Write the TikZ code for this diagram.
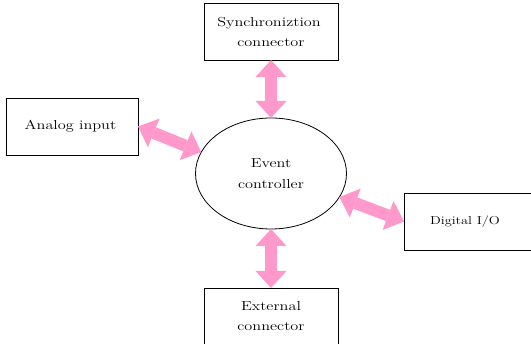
\documentclass[tikz,border=0pt]{standalone}
\usepackage{graphicx}
\usetikzlibrary{arrows.meta,shapes.geometric}
\definecolor{arrpink}{HTML}{FF99CC}
\newcommand\sxt[1]{\scalebox{1.25}[1]{#1}}
\begin{document}
\begin{tikzpicture}[x=1pt,y=1pt,
  box/.style={draw, line width=0.8pt, rectangle, minimum width=134pt, minimum height=57pt,
    inner sep=0pt, outer sep=0pt, align=center, font=\fontsize{13}{20}\selectfont},
  ell/.style={draw, line width=0.8pt, ellipse, minimum width=151pt, minimum height=111pt,
    inner sep=0pt, outer sep=0pt, align=center, font=\fontsize{13}{21}\selectfont},
  ptip/.tip={Triangle[length=17pt 0, width=31pt 0, line width=0pt]},
  link/.style={draw=arrpink, line width=12pt, ptip-ptip}
]
\useasboundingbox (0,0) rectangle (531,344);
\clip (0,0) rectangle (531,344);
\node[box] (sync) at (271,312.5) {\sxt{Synchroniztion}\hspace*{4pt}\\\sxt{connector}};
\node[box, minimum width=132pt] (analog) at (72,217.5) {\sxt{Analog input}\hspace*{3pt}};
\node[box, font=\fontsize{11.5}{14}\selectfont] (dig) at (471,122.5) {\sxt{Digital I/O}\hspace*{12pt}};
\node[box] (ext) at (271,27.5) {\sxt{External}\\\sxt{connector}};
\node[ell] (ev) at (271,170.5) {\sxt{Event}\\\sxt{controller}};
\draw[link] (sync.south) -- (ev.north);
\draw[link] (ev.south) -- (ext.north);
\draw[link] (analog.east) -- (ev.163);
\draw[link] (ev.-19) -- (dig.west);
\end{tikzpicture}
\end{document}
